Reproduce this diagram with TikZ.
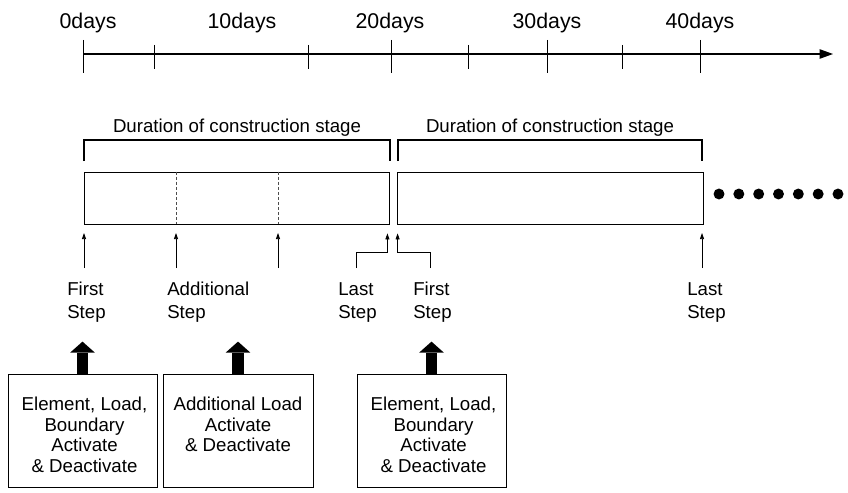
\documentclass[tikz,border=0pt]{standalone}
\usepackage{fontspec}
\setmainfont{Liberation Sans}
\usetikzlibrary{positioning, calc, fit, arrows.meta}

\begin{document}
\begin{tikzpicture}[x=0.75pt, y=-0.75pt, font=\fontsize{14}{15.5}\selectfont,
        stagebox/.style={draw, line width=0.6pt, inner sep=0pt},
        infobox/.style={draw, line width=0.6pt, inner sep=0pt},
        bracket/.style={line width=1pt},
        tick/.style={line width=0.6pt},
        timeaxis/.style={line width=0.9pt, -{Triangle[length=10pt, width=7pt]}},
        substep/.style={line width=0.6pt, black!70, dash pattern=on 2.2pt off 1.6pt},
        steparrow/.style={line width=0.5pt, -{Triangle[length=4.5pt, width=3pt]}},
        bigarrow/.style={line width=8.5pt, -{Triangle[length=8.25pt, width=18.5pt, line width=0pt]}},
        daylabel/.style={anchor=base, inner sep=0pt, font=\fontsize{16}{18}\selectfont},
        stagetitle/.style={anchor=base, inner sep=0pt},
        steplabel/.style={anchor=north west, align=left, inner sep=0pt, font=\fontsize{14}{17.25}\selectfont},
        boxtext/.style={anchor=north, align=center, inner sep=0pt}]

        % Khung hình (848 x 492 px)
        \useasboundingbox (0,0) rectangle (848,492);

        % 1. Trục thời gian
        \coordinate (t0) at (83,54);
        \coordinate (tend) at (833,54);
        \draw[timeaxis] (t0) -- (tend);
        % vạch chia dài và ngắn
        \foreach \x in {83, 391, 547, 700} {
            \draw[tick] (\x,40) -- (\x,73);
        }
        \foreach \x in {154, 308, 468, 622} {
            \draw[tick] (\x,45) -- (\x,69);
        }
        % nhãn ngày
        \foreach \x/\lbl [count=\i] in {88/0, 242/10, 390/20, 547/30, 700/40} {
            \node[daylabel] (day\i) at (\x,29) {\lbl days};
        }

        % 2. Ngoặc và hộp giai đoạn thi công
        \foreach \xa/\xb/\nm in {84/390/A, 398/702/B} {
            \draw[bracket] (\xa,161) -- (\xa,140) -- (\xb,140) -- (\xb,161);
            \node[stagetitle] (title\nm) at ({(\xa+\xb)/2},132) {Duration of construction stage};
        }
        \node[stagebox, fit={(84,172) (389,224)}] (stageA) {};
        \node[stagebox, fit={(397,172) (703,224)}] (stageB) {};
        % bước phụ (nét đứt)
        \draw[substep] (176,0 |- stageA.north) -- (176,0 |- stageA.south);
        \draw[substep] (278,0 |- stageA.north) -- (278,0 |- stageA.south);
        % dấu chấm tiếp tục
        \foreach \i in {0,...,6} {
            \fill ({719+19.83*\i},194) circle[radius=4.1pt];
        }

        % 3. Mũi tên các bước tính
        \foreach \x/\nm in {84/a, 176/b, 278/c, 702/d} {
            \coordinate (foot\nm) at (\x,268);
            \draw[steparrow] (foot\nm) -- ++(0,-35);
        }
        \coordinate (footLast) at (356,268);
        \coordinate (footFirst) at (430,268);
        \draw[steparrow] (footLast) -- ++(0,-16) -| ($(stageA.south east)+(-2,9)$);
        \draw[steparrow] (footFirst) -- ++(0,-16) -| ($(stageB.south west)+(1,9)$);

        % nhãn bước
        \node[steplabel] (lblFirstA) at (67,282) {First\\Step};
        \node[steplabel] (lblAdd) at (167,282) {Additional\\Step};
        \node[steplabel] (lblLastA) at (338,282) {Last\\Step};
        \node[steplabel] (lblFirstB) at (413,282) {First\\Step};
        \node[steplabel] (lblLastB) at (687,282) {Last\\Step};

        % 4. Hộp kích hoạt / vô hiệu hóa
        \node[infobox, fit={(8,374) (157,487)}] (boxA) {};
        \node[infobox, fit={(163,374) (313,487)}] (boxB) {};
        \node[infobox, fit={(357,374) (506,487)}] (boxC) {};
        \node[boxtext] (txtA) at ($(boxA.north)+(2,23)$) {Element, Load,\\Boundary\\Activate\\\& Deactivate};
        \node[boxtext] (txtB) at ($(boxB.north)+(0,23)$) {Additional Load\\Activate\\\& Deactivate};
        \node[boxtext] (txtC) at ($(boxC.north)+(2,23)$) {Element, Load,\\Boundary\\Activate\\\& Deactivate};
        \foreach \nm in {A, B, C} {
            \draw[bigarrow] (box\nm.north) -- ++(0,-32);
        }

\end{tikzpicture}
\end{document}
